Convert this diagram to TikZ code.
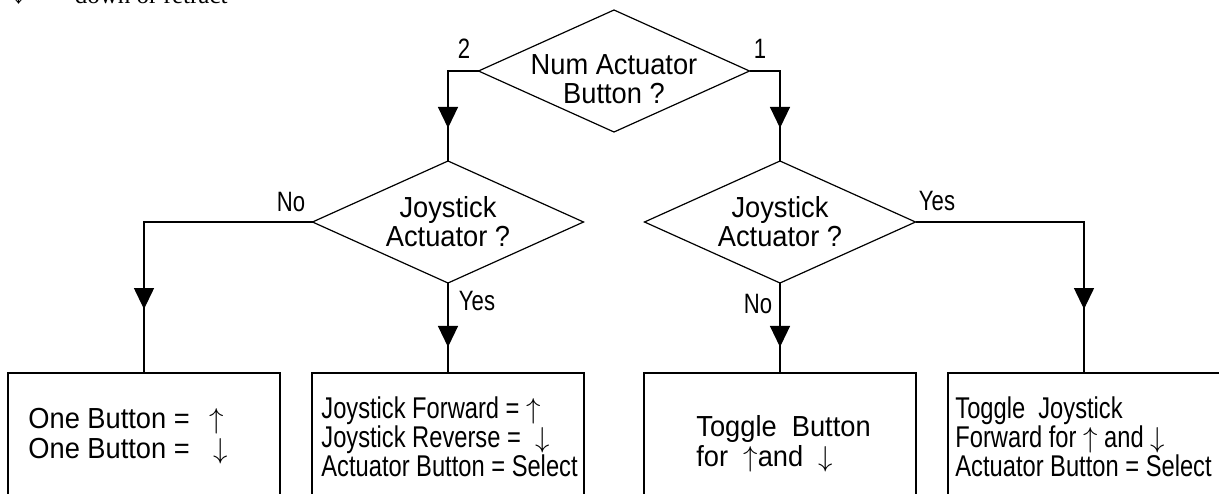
\documentclass[tikz,border=0pt]{standalone}
\usepackage{fontspec}
\setmainfont{Liberation Sans}[FakeStretch=0.94]
\newfontfamily\narrowfont{Liberation Sans}[FakeStretch=0.79]
\newfontfamily\cutfont{Liberation Serif}
\usetikzlibrary{shapes.geometric,arrows.meta,decorations.markings,positioning}

\tikzset{
  decision/.style={diamond, draw, line width=0.6pt, inner sep=0pt, outer sep=0pt,
    minimum width=135.5pt, minimum height=61pt},
  result/.style={rectangle, draw, line width=0.6pt, outer sep=0pt,
    minimum width=136pt, minimum height=75pt},
  flow/.style={line width=0.6pt},
  midarrow/.style={postaction={decorate}, decoration={markings,
    mark=at position #1 with {\arrow{Triangle[length=10.5pt,width=10pt]}}}},
  lbl/.style={anchor=base, inner sep=0pt, font=\narrowfont\fontsize{14}{14}\selectfont},
  dtext/.style={align=center, font=\fontsize{14.5}{14.5}\selectfont},
  btext/.style={anchor=north west, inner sep=0pt, align=left, font=\fontsize{14.5}{15}\selectfont},
  ntext/.style={anchor=north west, inner sep=0pt, align=left, font=\narrowfont\fontsize{15}{14.5}\selectfont}
}

\begin{document}
\begin{tikzpicture}[x=0.5pt, y=-0.5pt, node distance=75.5pt]
	\useasboundingbox (0,0) rectangle (1219,493);
	\clip (0,0) rectangle (1219,493);
	% last line of the text above, cut off
	\node[anchor=base west, inner sep=0pt, font=\cutfont\fontsize{12.5}{12.5}\selectfont] (cut) at (12,3) {↓\hspace{25pt}down or retract};

	\node[decision, label={[dtext, yshift=-4pt]center:Num Actuator\\Button ?}] (num) at (614,71) {};
	\node[decision, label={[dtext]center:Joystick\\Actuator ?}] (jsl) [below of=num, xshift=-83pt] {};
	\node[decision, label={[dtext]center:Joystick\\Actuator ?}] (jsr) [below of=num, xshift=83pt] {};

	\node[result] (one) [below of=jsl, node distance=113pt, xshift=-152pt] {};
	\node[result] (joy) [below of=jsl, node distance=113pt] {};
	\node[result] (tog) [below of=jsr, node distance=113pt] {};
	\node[result] (tjoy) [below of=jsr, node distance=113pt, xshift=152pt] {};

	\node[btext] (onet) at ([shift={(20,35)}]one.north west) {One Button = \hspace{6pt}$\uparrow$\\One Button = \hspace{8pt}$\downarrow$};
	\node[ntext] (joyt) at ([shift={(9,23)}]joy.north west) {Joystick Forward = $\uparrow$\\Joystick Reverse = \hspace{4pt}$\downarrow$\\Actuator Button = Select};
	\node[btext] (togt) at ([shift={(52,42)}]tog.north west) {Toggle~~Button\\for ~$\uparrow$and ~$\downarrow$};
	\node[ntext] (tjoyt) at ([shift={(7,23)}]tjoy.north west) {Toggle~~Joystick\\Forward for $\uparrow$ and $\downarrow$\\Actuator Button = Select};

	\node[lbl] (lbltwo) at (464,58) {2};
	\node[lbl] (lblone) at (760,58) {1};
	\node[lbl] (lblno) at (291,211) {No};
	\node[lbl] (lblyes) at (477,310) {Yes};
	\node[lbl] (lblnor) at (758,313) {No};
	\node[lbl] (lblyesr) at (937,210) {Yes};

	\draw[flow, midarrow=0.726] (num.west) -| (jsl.north);
	\draw[flow, midarrow=0.726] (num.east) -| (jsr.north);
	\draw[flow, midarrow=0.8] (jsl.west) -| (one.north);
	\draw[flow, midarrow=0.711] (jsl.south) -- (joy.north);
	\draw[flow, midarrow=0.711] (jsr.south) -- (tog.north);
	\draw[flow, midarrow=0.8] (jsr.east) -| (tjoy.north);
\end{tikzpicture}
\end{document}
